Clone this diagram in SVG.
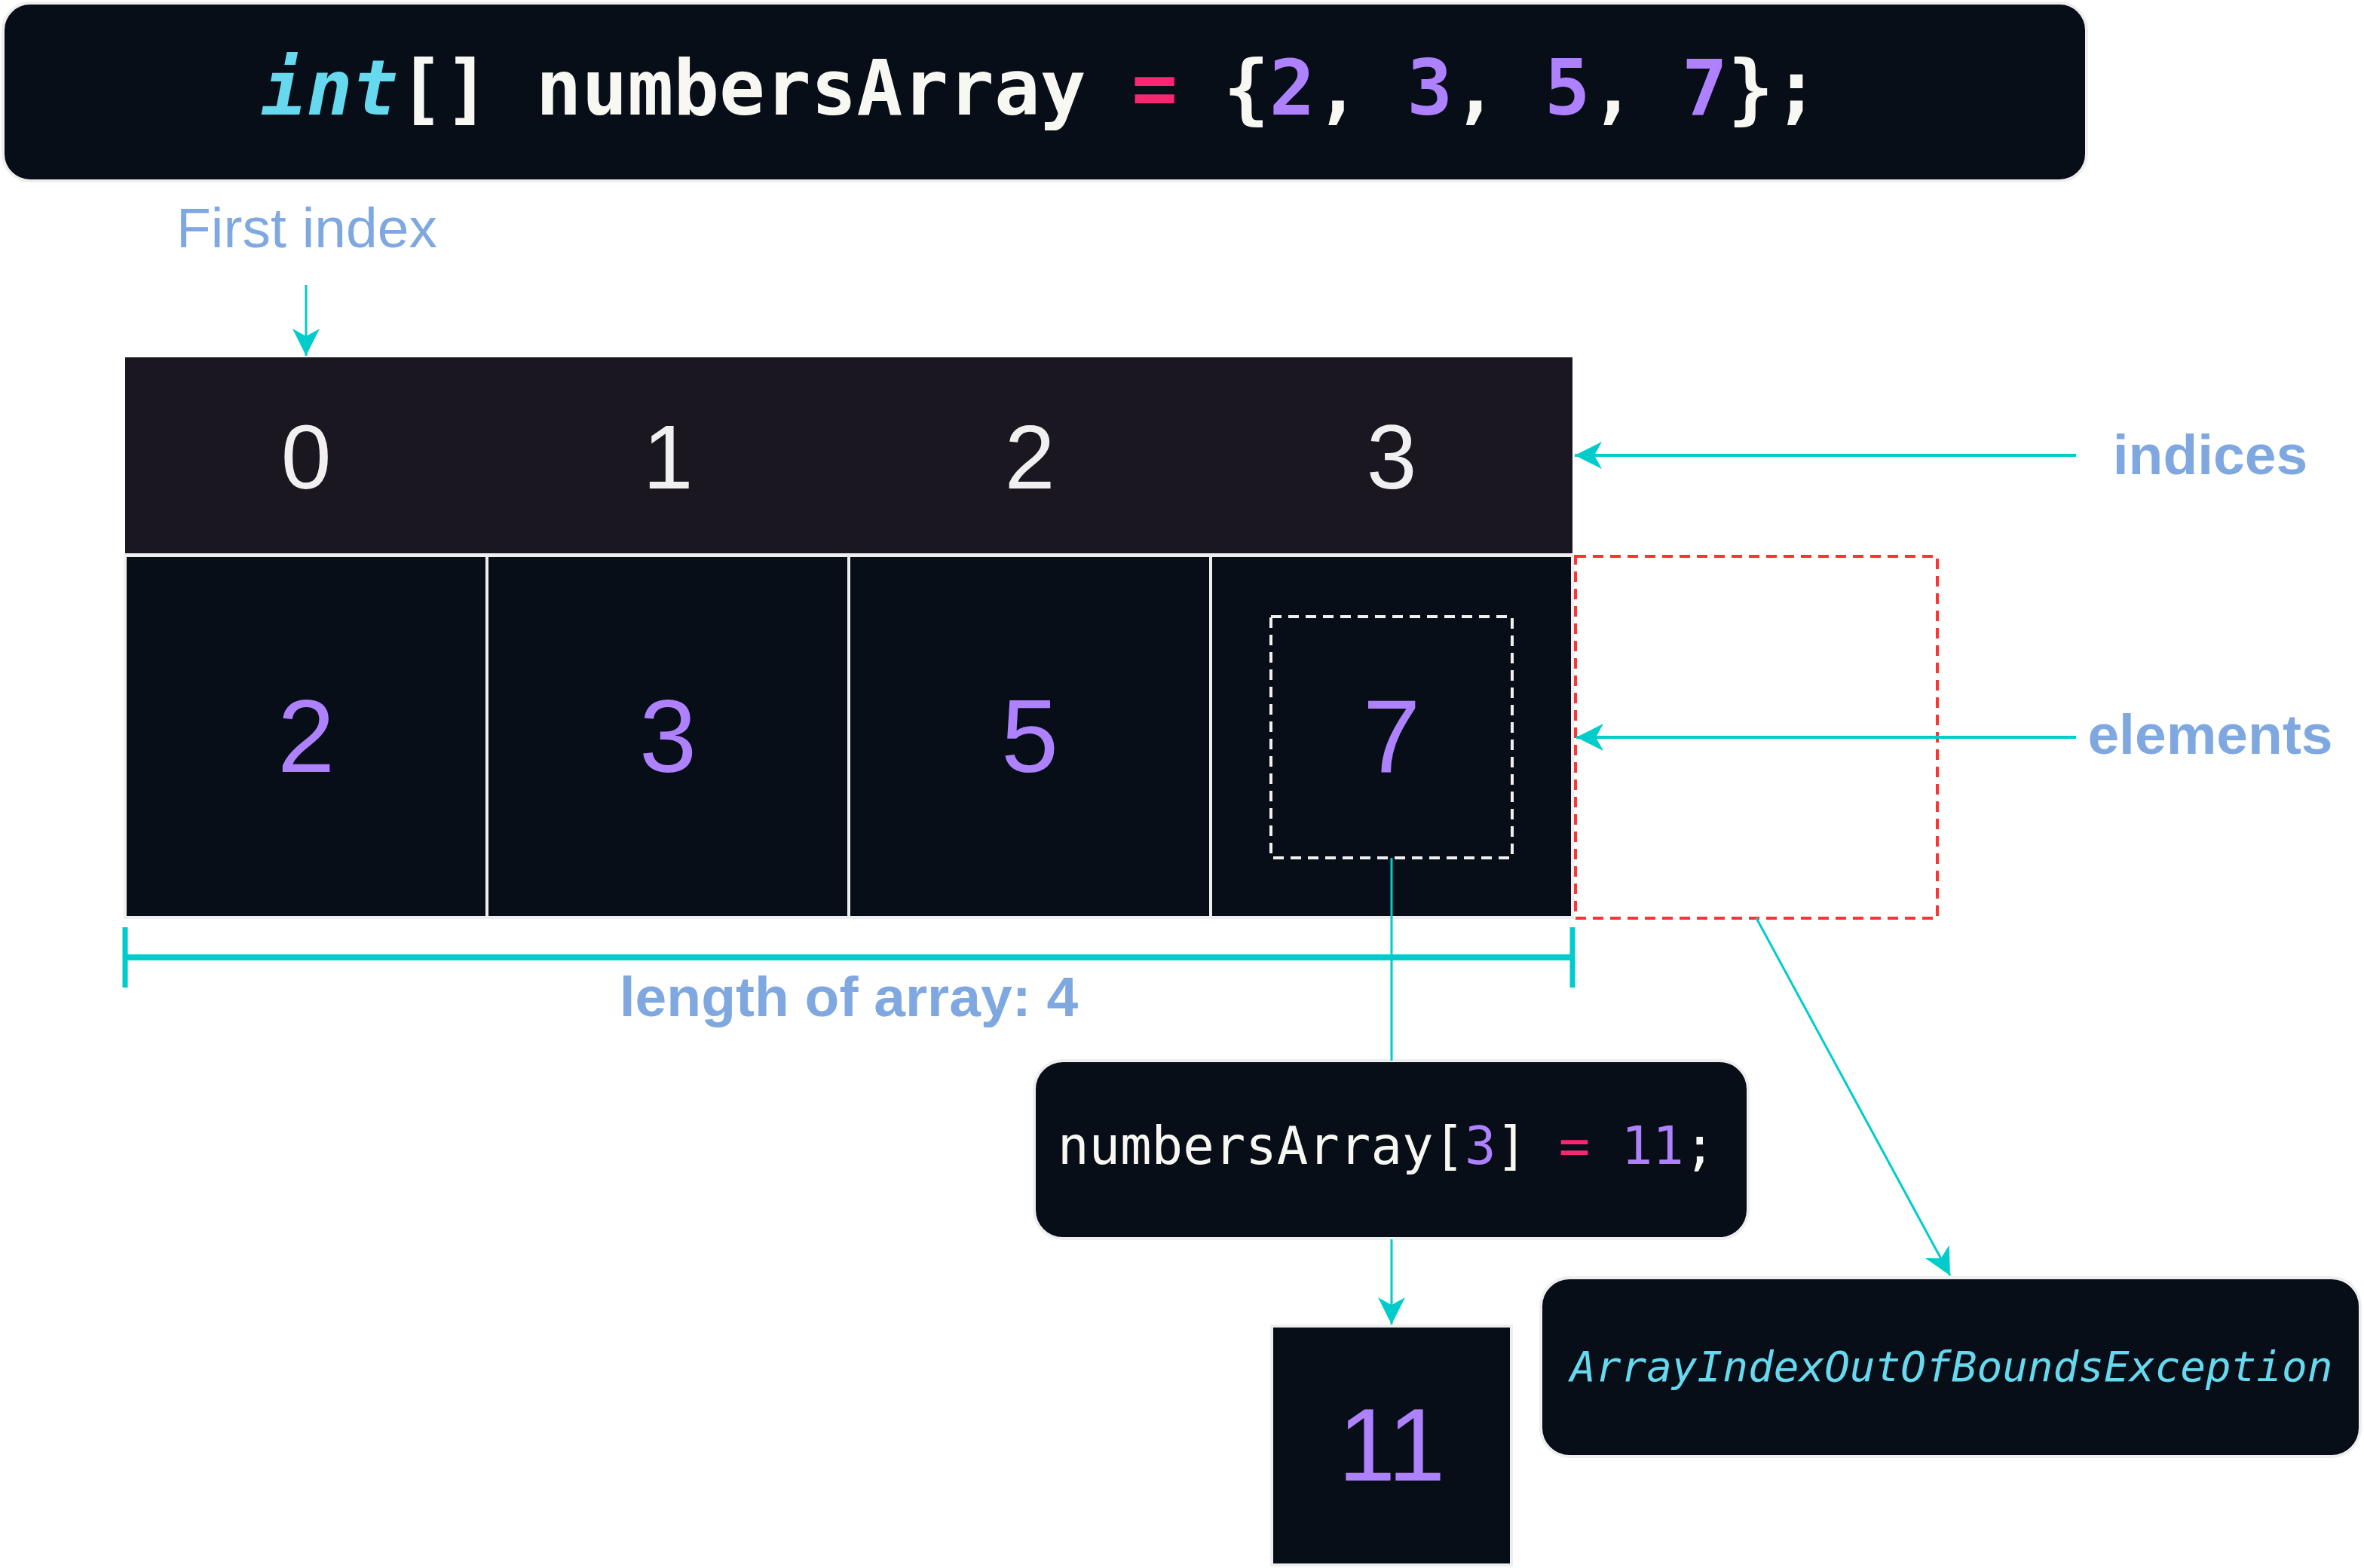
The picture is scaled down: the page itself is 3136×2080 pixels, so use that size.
<svg xmlns="http://www.w3.org/2000/svg" width="3136" height="2080" viewBox="0 0 3136 2080">
<style>
.box{fill:#080e17;stroke:#eeeeee;stroke-width:4}
.mono{font-family:"DejaVu Sans Mono","Liberation Mono",monospace}
.sans{font-family:"Liberation Sans",Arial,sans-serif}
.w{fill:#f8f8f2}
.kw{fill:#66d9ef;font-style:italic}
.num{fill:#ae81ff}
.op{fill:#f92672}
.lbl{fill:#80a8e0;font-size:75px}
.idx{fill:#f0f0f0;font-size:120px;text-anchor:middle}
.el{fill:#ae81ff;font-size:137px;text-anchor:middle}
.conn{fill:none;stroke:#00cccc}
</style>
<defs>
<marker id="ah" markerUnits="userSpaceOnUse" viewBox="-40 -20 40 40" markerWidth="40" markerHeight="40" refX="0" refY="0" orient="auto">
<path d="M0,0 L-36,-18 L-26,0 L-36,18 Z" fill="#00cccc"/>
</marker>
</defs>
<rect width="3136" height="2080" fill="#ffffff"/>

<g id="declaration">
<rect class="box" x="4" y="4" width="2764" height="236" rx="36"/>
<text class="mono w" x="346" y="152" font-size="101" font-weight="bold"><tspan class="kw">int</tspan>[] numbersArray <tspan class="op">=</tspan> {<tspan class="num">2</tspan>, <tspan class="num">3</tspan>, <tspan class="num">5</tspan>, <tspan class="num">7</tspan>};</text>
</g>

<g id="first-index-label">
<text class="sans lbl" x="234" y="328">First index</text>
</g>

<g id="indices-row">
<rect x="166" y="474" width="1920" height="260" fill="#1a1720"/>
<text class="sans idx" x="406" y="648">0</text>
<text class="sans idx" x="886" y="648">1</text>
<text class="sans idx" x="1366" y="648">2</text>
<text class="sans idx" x="1846" y="648">3</text>
</g>

<g id="elements-row">
<rect class="box" x="166" y="737" width="480" height="480"/>
<rect class="box" x="646" y="737" width="480" height="480"/>
<rect class="box" x="1126" y="737" width="480" height="480"/>
<rect class="box" x="1606" y="737" width="480" height="480"/>
<text class="sans el" x="406" y="1024">2</text>
<text class="sans el" x="886" y="1024">3</text>
<text class="sans el" x="1366" y="1024">5</text>
<text class="sans el" x="1846" y="1024">7</text>
</g>

<g id="selected-element">
<rect x="1686" y="818" width="320" height="320" fill="none" stroke="#f0f0f0" stroke-width="4" stroke-dasharray="14 9"/>
</g>

<g id="out-of-bounds">
<rect x="2090" y="738" width="480" height="480" fill="none" stroke="#ff3333" stroke-width="4" stroke-dasharray="14 9"/>
</g>

<g id="indices-label">
<text class="sans lbl" x="2932" y="629" font-weight="bold" text-anchor="middle">indices</text>
</g>

<g id="elements-label">
<text class="sans lbl" x="2932" y="1000" font-weight="bold" text-anchor="middle">elements</text>
</g>

<g id="length-label">
<text class="sans lbl" x="1126" y="1348" font-weight="bold" text-anchor="middle">length of array: 4</text>
</g>

<g id="assignment">
<rect class="box" x="1372" y="1407" width="947" height="236" rx="38"/>
<text class="mono w" x="1403" y="1544" font-size="69">numbersArray[<tspan class="num">3</tspan>] <tspan class="op">=</tspan> <tspan class="num">11</tspan>;</text>
</g>

<g id="result">
<rect class="box" x="1687" y="1759" width="318" height="317"/>
<text class="sans el" x="1846" y="1964">11</text>
</g>

<g id="exception">
<rect class="box" x="2044" y="1695" width="1087" height="237" rx="38"/>
<text class="mono kw" x="2083" y="1832" font-size="56">ArrayIndexOutOfBoundsException</text>
</g>

<g id="connectors">
<path class="conn" d="M406,378 V472" stroke-width="3" marker-end="url(#ah)"/>
<path class="conn" d="M2754,604 H2089" stroke-width="4" marker-end="url(#ah)"/>
<path class="conn" d="M2754,978 H2091" stroke-width="4" marker-end="url(#ah)"/>
<path class="conn" d="M166,1270 H2086" stroke-width="8"/>
<path class="conn" d="M166,1230 V1310 M2086,1230 V1310" stroke-width="7"/>
<path class="conn" d="M1846,1138 V1407" stroke-width="3"/>
<path class="conn" d="M1846,1644 V1757" stroke-width="3" marker-end="url(#ah)"/>
<path class="conn" d="M2330,1218 L2587,1692" stroke-width="3" marker-end="url(#ah)"/>
</g>
</svg>
